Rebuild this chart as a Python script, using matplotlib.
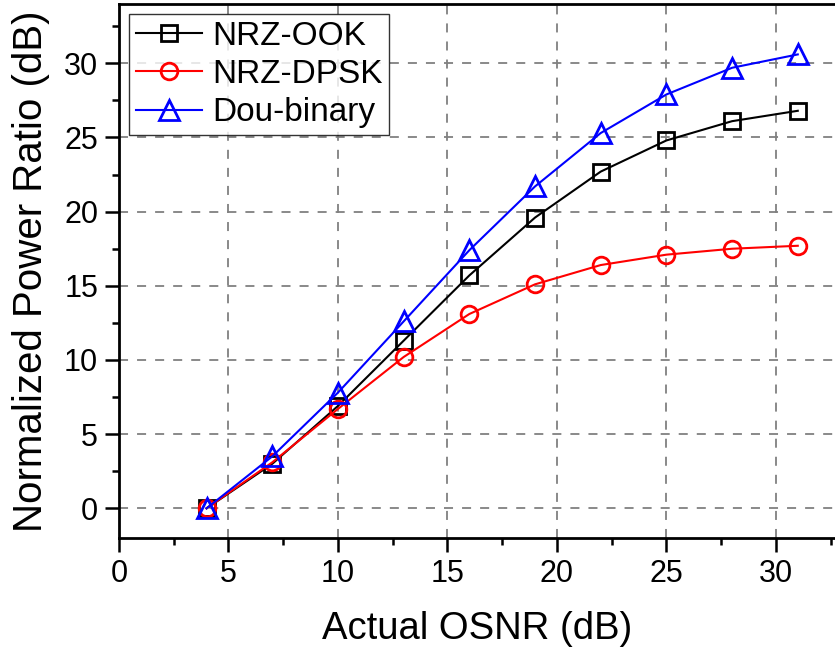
import matplotlib
matplotlib.use("Agg")
from matplotlib import pyplot as plt
from matplotlib.ticker import MultipleLocator

plt.rcParams["font.family"] = ["Liberation Sans", "DejaVu Sans"]

osnr = [4, 7, 10, 13, 16, 19, 22, 25, 28, 31]
nrz_ook = [0, 3.0, 6.9, 11.3, 15.7, 19.6, 22.7, 24.8, 26.1, 26.8]
nrz_dpsk = [0, 3.1, 6.7, 10.2, 13.1, 15.1, 16.4, 17.1, 17.5, 17.7]
duobinary = [0, 3.5, 7.8, 12.6, 17.4, 21.7, 25.3, 27.9, 29.7, 30.6]
labels = ["NRZ-OOK", "NRZ-DPSK", "Dou-binary"]

fig = plt.figure(figsize=(8.35, 6.54), dpi=100)
ax = fig.add_axes([0.1425, 0.1774, 0.8575, 0.8165])

ax.plot(osnr, nrz_ook, "-s", color="black", lw=1.5, ms=11, mfc="none", mew=2, label=labels[0])
ax.plot(osnr, nrz_dpsk, "-o", color="red", lw=1.5, ms=12, mfc="none", mew=2, label=labels[1])
ax.plot(osnr, duobinary, "-^", color="blue", lw=1.5, ms=14, mfc="none", mew=2, label=labels[2])

ax.set_xlim(0, 32.7)
ax.set_ylim(-2, 34)
ax.xaxis.set_major_locator(MultipleLocator(5))
ax.xaxis.set_minor_locator(MultipleLocator(2.5))
ax.yaxis.set_major_locator(MultipleLocator(5))
ax.yaxis.set_minor_locator(MultipleLocator(2.5))
ax.tick_params(which="major", length=10, width=1.8, labelsize=22, direction="out", pad=5)
ax.tick_params(which="minor", length=5, width=1.8, direction="out")
ax.grid(True, which="major", linestyle=(0, (5, 5)), color="#808080", lw=1.3)
for s in ax.spines.values():
    s.set_linewidth(2)
ax.spines["right"].set_visible(False)

ax.set_xlabel("Actual OSNR (dB)", fontsize=27.5, labelpad=16)
ax.set_ylabel("Normalized Power Ratio (dB)", fontsize=29, labelpad=10)

leg = ax.legend(loc="upper left", fontsize=24, frameon=True, fancybox=False,
                handlelength=2.0, borderpad=0.2, labelspacing=0.22, handletextpad=0.3,
                borderaxespad=0.3)
leg.get_frame().set_edgecolor("black")
leg.get_frame().set_linewidth(1)

fig.savefig("out.png", dpi=100)
